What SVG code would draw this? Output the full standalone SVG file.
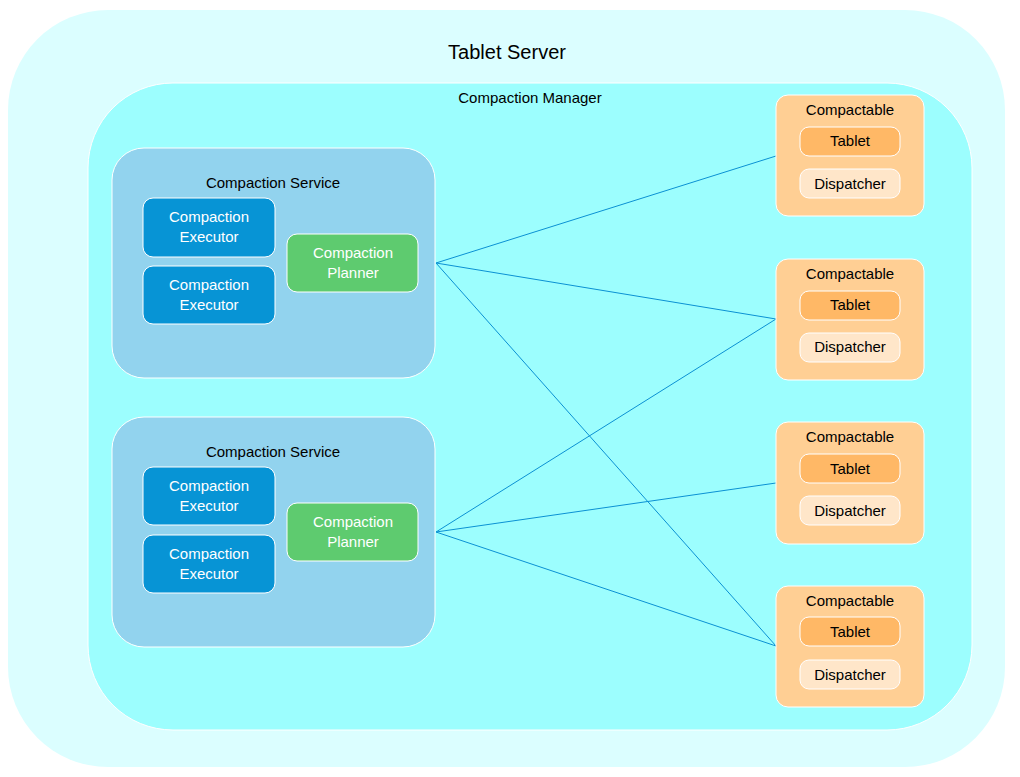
<svg xmlns="http://www.w3.org/2000/svg" width="1020" height="777" viewBox="0 0 1020 777">
<style>
text{font-family:"Liberation Sans",Arial,sans-serif;font-size:15px;text-anchor:middle;dominant-baseline:central}
.w{fill:#fff}
.k{fill:#000}
.svc{fill:#92d3ee;stroke:#fff;stroke-width:1}
.ex{fill:#0794d5;stroke:#fff;stroke-width:1}
.pl{fill:#5ecb6f;stroke:#fff;stroke-width:1}
.cp{fill:#ffcf94;stroke:#fff;stroke-width:1}
.tb{fill:#ffb866;stroke:#fff;stroke-width:1}
.dp{fill:#ffe6c9;stroke:#fff;stroke-width:1}
.ln{stroke:#0b91d3;stroke-width:1;fill:none}
</style>
<g id="tablet-server">
<rect x="8" y="10" width="997" height="757" rx="100" ry="100" fill="#dbfeff"/>
<text x="507" y="52" class="k" style="font-size:20px">Tablet Server</text>
</g>
<g id="compaction-manager">
<rect x="88" y="83" width="884" height="647" rx="85" ry="85" fill="#9cfefe" stroke="#fff"/>
<text x="530" y="97" class="k">Compaction Manager</text>
</g>
<g id="connectors">
<line class="ln" x1="436" y1="263" x2="776" y2="156"/>
<line class="ln" x1="436" y1="263" x2="776" y2="319"/>
<line class="ln" x1="436" y1="263" x2="776" y2="646"/>
<line class="ln" x1="436" y1="532" x2="776" y2="319"/>
<line class="ln" x1="436" y1="532" x2="776" y2="483"/>
<line class="ln" x1="436" y1="532" x2="776" y2="646"/>
</g>
<g id="service-1">
<rect class="svc" x="112" y="148" width="323" height="230" rx="32"/>
<text x="273" y="182" class="k">Compaction Service</text>
</g>
<g id="executor-1a">
<rect class="ex" x="143" y="198" width="132" height="59" rx="10"/>
<text x="209" y="216" class="w">Compaction</text>
<text x="209" y="236" class="w">Executor</text>
</g>
<g id="executor-1b">
<rect class="ex" x="143" y="266" width="132" height="58" rx="10"/>
<text x="209" y="284" class="w">Compaction</text>
<text x="209" y="304" class="w">Executor</text>
</g>
<g id="planner-1">
<rect class="pl" x="287" y="234" width="131" height="58" rx="10"/>
<text x="353" y="252" class="w">Compaction</text>
<text x="353" y="272" class="w">Planner</text>
</g>
<g id="service-2">
<rect class="svc" x="112" y="417" width="323" height="230" rx="32"/>
<text x="273" y="451" class="k">Compaction Service</text>
</g>
<g id="executor-2a">
<rect class="ex" x="143" y="467" width="132" height="58" rx="10"/>
<text x="209" y="485" class="w">Compaction</text>
<text x="209" y="505" class="w">Executor</text>
</g>
<g id="executor-2b">
<rect class="ex" x="143" y="535" width="132" height="58" rx="10"/>
<text x="209" y="553" class="w">Compaction</text>
<text x="209" y="573" class="w">Executor</text>
</g>
<g id="planner-2">
<rect class="pl" x="287" y="503" width="131" height="58" rx="10"/>
<text x="353" y="521" class="w">Compaction</text>
<text x="353" y="541" class="w">Planner</text>
</g>
<g id="compactable-1">
<rect class="cp" x="776" y="95" width="148" height="121" rx="12"/>
<text x="850" y="109" class="k">Compactable</text>
<rect class="tb" x="800" y="127" width="100" height="29" rx="9"/>
<text x="850" y="140" class="k">Tablet</text>
<rect class="dp" x="800" y="169" width="100" height="29" rx="9"/>
<text x="850" y="183" class="k">Dispatcher</text>
</g>
<g id="compactable-2">
<rect class="cp" x="776" y="259" width="148" height="121" rx="12"/>
<text x="850" y="273" class="k">Compactable</text>
<rect class="tb" x="800" y="291" width="100" height="29" rx="9"/>
<text x="850" y="304" class="k">Tablet</text>
<rect class="dp" x="800" y="333" width="100" height="29" rx="9"/>
<text x="850" y="346" class="k">Dispatcher</text>
</g>
<g id="compactable-3">
<rect class="cp" x="776" y="422" width="148" height="122" rx="12"/>
<text x="850" y="436" class="k">Compactable</text>
<rect class="tb" x="800" y="454" width="100" height="29" rx="9"/>
<text x="850" y="468" class="k">Tablet</text>
<rect class="dp" x="800" y="496" width="100" height="29" rx="9"/>
<text x="850" y="510" class="k">Dispatcher</text>
</g>
<g id="compactable-4">
<rect class="cp" x="776" y="586" width="148" height="121" rx="12"/>
<text x="850" y="600" class="k">Compactable</text>
<rect class="tb" x="800" y="617" width="100" height="29" rx="9"/>
<text x="850" y="631" class="k">Tablet</text>
<rect class="dp" x="800" y="660" width="100" height="29" rx="9"/>
<text x="850" y="674" class="k">Dispatcher</text>
</g>
</svg>
